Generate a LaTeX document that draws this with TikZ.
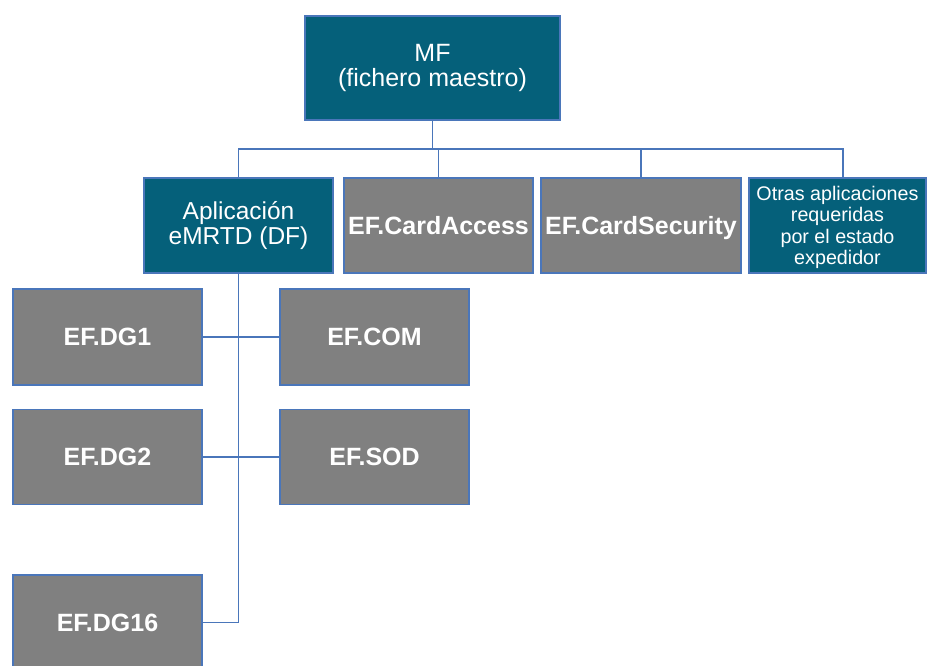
\documentclass[tikz,border=0pt]{standalone}
\usepackage{fontspec}
\setmainfont{Liberation Sans}
\definecolor{tealfill}{HTML}{05607A}
\definecolor{grayfill}{HTML}{808080}
\definecolor{edgeblue}{HTML}{4A76BA}
\newcommand\tightlines{\lineskiplimit=-50pt\relax\lineskip=0pt\relax}
\tikzset{
  box/.style={draw=edgeblue, line width=1.2pt, text=white, align=center,
    inner sep=0pt, rectangle},
  tealbox/.style={box, fill=tealfill},
  graybox/.style={box, fill=grayfill, font=\fontsize{25}{27}\selectfont\bfseries,
    text height=17.9pt, text depth=0pt},
  link/.style={draw=edgeblue, line width=1.2pt}
}
\begin{document}
\begin{tikzpicture}[x=1pt, y=-1pt]
\useasboundingbox (0,0) rectangle (927,665);
\clip (0,0) rectangle (927,665);

% root
\node[tealbox, minimum width=255pt, minimum height=104pt,
      font=\fontsize{25}{25.5}\selectfont\tightlines] (mf) at (432.5,68)
      {MF\\(fichero maestro)};

% first level
\node[tealbox, minimum width=189pt, minimum height=95pt,
      font=\fontsize{24.5}{24.5}\selectfont\tightlines] (app) at (238.5,225.5)
      {Aplicación\\eMRTD (DF)};
\node[graybox, minimum width=189pt, minimum height=95pt] (access) at (438.5,225.5)
      {EF.CardAccess};
\node[graybox, minimum width=200pt, minimum height=95pt] (security) at (641,225.5)
      {EF.CardSecurity};
\node[tealbox, minimum width=177pt, minimum height=95pt,
      font=\fontsize{19.7}{21.5}\selectfont, text depth=0pt] (other) at (837.5,225.5)
      {Otras aplicaciones\\requeridas\\por el estado\\expedidor};

% files of the eMRTD application
\node[graybox, minimum width=189pt, minimum height=96pt] (dg1) at (107.5,337) {EF.DG1};
\node[graybox, minimum width=189pt, minimum height=96pt] (com) at (374.5,337) {EF.COM};
\node[graybox, minimum width=189pt, minimum height=95pt] (dg2) at (107.5,457) {EF.DG2};
\node[graybox, minimum width=189pt, minimum height=95pt] (sod) at (374.5,457) {EF.SOD};
\node[graybox, minimum width=189pt, minimum height=95pt] (dg16) at (107.5,622.5) {EF.DG16};

% tree connectors
\coordinate (bus) at (0,149);
\coordinate (otherin) at ([xshift=5.5pt]other.north);
\draw[link] (mf.south) -- (mf.south |- bus);
\draw[link] (app.north) |- (otherin |- bus) -- (otherin);
\draw[link] (access.north) -- (access.north |- bus);
\draw[link] (security.north) -- (security.north |- bus);

\draw[link] (app.south) |- (dg16.east);
\draw[link] (dg1.east) -- (com.west);
\draw[link] (dg2.east) -- (sod.west);
\end{tikzpicture}
\end{document}
